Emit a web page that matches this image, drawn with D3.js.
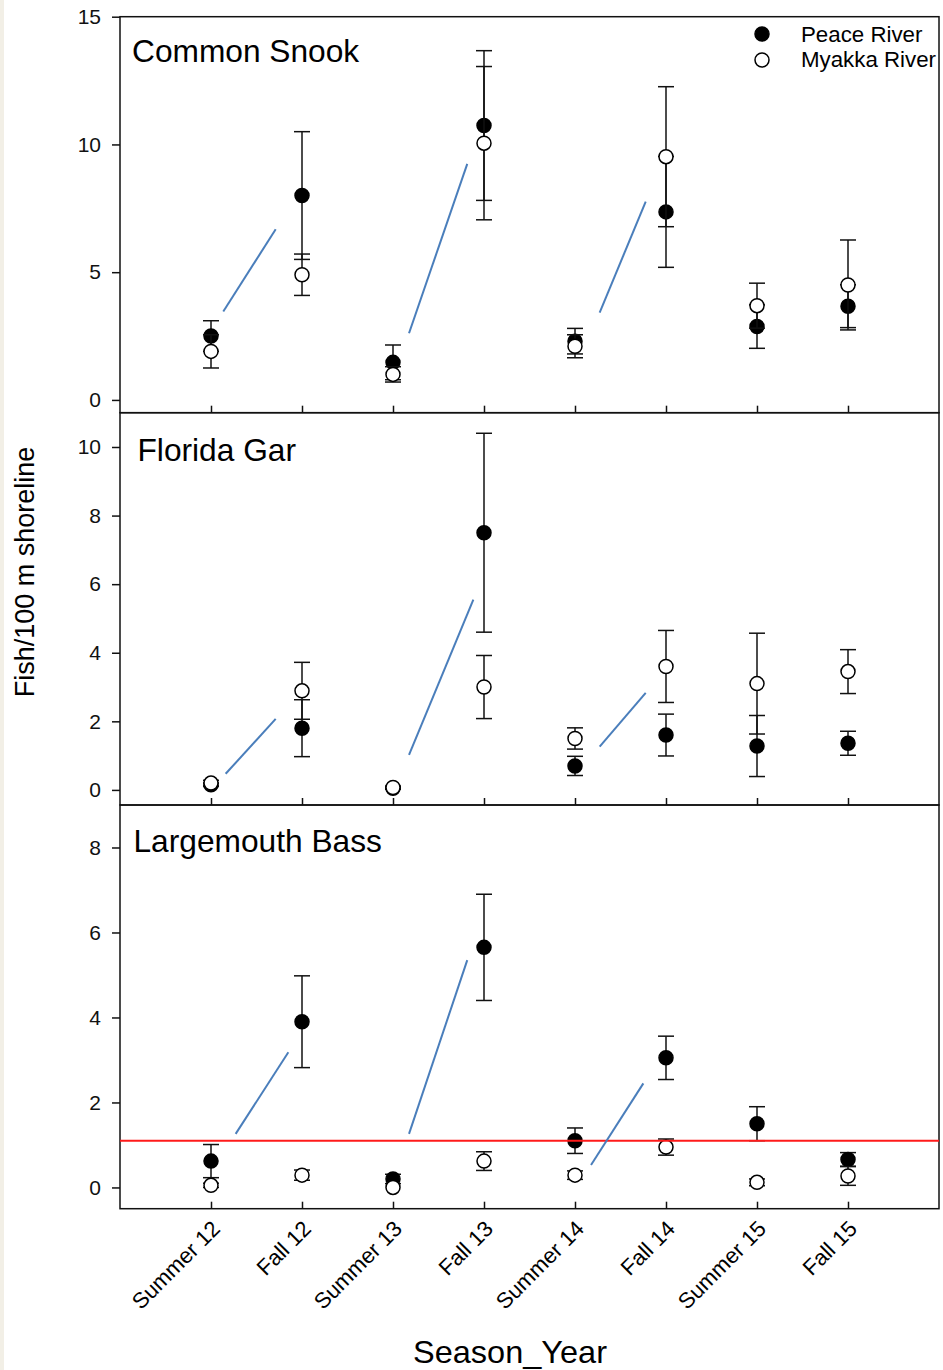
<!DOCTYPE html>
<html>
<head>
<meta charset="utf-8">
<script src="https://cdn.jsdelivr.net/npm/d3@7"></script>
<style>
  html, body { margin: 0; padding: 0; background: #ffffff; }
  svg { display: block; }
</style>
</head>
<body>
<script>
// ---------------- DATA ----------------
const categories = ["Summer 12", "Fall 12", "Summer 13", "Fall 13", "Summer 14", "Fall 14", "Summer 15", "Fall 15"];
const seriesNames = ["Peace River", "Myakka River"];

const snookPeace    = [2.5, 8.0, 1.47, 10.74, 2.3, 7.36, 2.87, 3.67];
const snookPeaceSE  = [0.6, 2.5, 0.68, 2.93, 0.5, 2.17, 0.85, 0.84];
const snookMyakka   = [1.9, 4.9, 1.0, 10.05, 2.1, 9.52, 3.69, 4.5];
const snookMyakkaSE = [0.65, 0.81, 0.3, 3.0, 0.45, 2.74, 0.88, 1.76];

const garPeace    = [0.15, 1.8, 0.05, 7.5, 0.7, 1.6, 1.28, 1.36];
const garPeaceSE  = [0.05, 0.83, 0.03, 2.9, 0.28, 0.61, 0.89, 0.35];
const garMyakka   = [0.2, 2.89, 0.07, 3.0, 1.5, 3.6, 3.1, 3.45];
const garMyakkaSE = [0.08, 0.83, 0.04, 0.92, 0.31, 1.05, 1.47, 0.64];

const bassPeace    = [0.62, 3.9, 0.2, 5.65, 1.1, 3.05, 1.5, 0.66];
const bassPeaceSE  = [0.39, 1.08, 0.11, 1.25, 0.3, 0.51, 0.4, 0.16];
const bassMyakka   = [0.05, 0.29, 0.0, 0.62, 0.29, 0.95, 0.12, 0.27];
const bassMyakkaSE = [0.05, 0.12, 0.0, 0.22, 0.1, 0.19, 0.08, 0.22];

// blue annotation segments: [xIndex1, y1, xIndex2, y2] in data units
const snookSegments = [[0.135, 3.46, 0.711, 6.68], [2.176, 2.61, 2.816, 9.24], [4.271, 3.42, 4.777, 7.76]];
const garSegments   = [[0.161, 0.47, 0.711, 2.07], [2.176, 1.02, 2.883, 5.55], [4.271, 1.26, 4.777, 2.83]];
const bassSegments  = [[0.271, 1.26, 0.850, 3.18], [2.176, 1.26, 2.816, 5.35], [4.176, 0.53, 4.751, 2.45]];

const bassReference = 1.1;

const snookTicks = [0, 5, 10, 15];
const garTicks   = [0, 2, 4, 6, 8, 10];
const bassTicks  = [0, 2, 4, 6, 8];

const panelTitles = ["Common Snook", "Florida Gar", "Largemouth Bass"];
const xTitle = "Season_Year";
const yTitle = "Fish/100 m shoreline";

// ---------------- LAYOUT ----------------
const W = 943, H = 1370;
const left = 120, right = 939;
const panels = [
  { title: panelTitles[0], peace: snookPeace, peaceSE: snookPeaceSE, myakka: snookMyakka, myakkaSE: snookMyakkaSE,
    segs: snookSegments, ticks: snookTicks, domain: [-0.5, 15], range: [412.7, 16.7], titlePos: [132, 61.5], legend: true },
  { title: panelTitles[1], peace: garPeace, peaceSE: garPeaceSE, myakka: garMyakka, myakkaSE: garMyakkaSE,
    segs: garSegments, ticks: garTicks, domain: [-0.44, 11], range: [805, 412.7], titlePos: [137.5, 461] },
  { title: panelTitles[2], peace: bassPeace, peaceSE: bassPeaceSE, myakka: bassMyakka, myakkaSE: bassMyakkaSE,
    segs: bassSegments, ticks: bassTicks, domain: [-0.5, 9], range: [1208.7, 805], titlePos: [133.5, 851.7], ref: bassReference }
];

const FONT = "'Liberation Sans', Arial, Helvetica, sans-serif";
const svg = d3.select("body").append("svg").attr("width", W).attr("height", H);
svg.append("rect").attr("width", W).attr("height", H).attr("fill", "#ffffff");
svg.append("rect").attr("x", 0).attr("y", 0).attr("width", 4).attr("height", H).attr("fill", "#f2efe6");

const x = d3.scaleLinear().domain([-1, categories.length]).range([left, right]);

const R = 7, CAP = 8;

panels.forEach((p, pi) => {
  const y = d3.scaleLinear().domain(p.domain).range(p.range);
  const g = svg.append("g");

  // frame
  g.append("rect").attr("x", left).attr("y", p.range[1]).attr("width", right - left)
    .attr("height", p.range[0] - p.range[1]).attr("fill", "none").attr("stroke", "#111").attr("stroke-width", 1.5);

  // y axis
  const ya = g.append("g").attr("transform", `translate(${left},0)`)
    .call(d3.axisLeft(y).tickValues(p.ticks).tickSize(8).tickPadding(11).tickFormat(d3.format("d")));
  ya.select(".domain").remove();
  ya.selectAll(".tick line").attr("stroke", "#111").attr("stroke-width", 1.5);
  ya.selectAll(".tick text").attr("font-family", FONT).attr("font-size", 21).attr("fill", "#111");

  // x axis ticks (inward)
  const xa = g.append("g").attr("transform", `translate(0,${p.range[0]})`)
    .call(d3.axisTop(x).tickValues(d3.range(categories.length)).tickSize(7).tickFormat(""));
  xa.select(".domain").remove();
  xa.selectAll(".tick line").attr("stroke", "#111").attr("stroke-width", 1.5);

  // series
  const series = [
    { v: p.peace, se: p.peaceSE, fill: "#000000" },
    { v: p.myakka, se: p.myakkaSE, fill: "#ffffff" }
  ];
  series.forEach(s => {
    const sg = g.append("g");
    const pts = s.v.map((v, i) => ({ i, v, se: s.se[i] }));
    const eb = sg.selectAll("g.eb").data(pts.filter(d => d.se > 0)).join("g").attr("class", "eb")
      .attr("stroke", "#111").attr("stroke-width", 1.5);
    eb.append("line").attr("x1", d => x(d.i)).attr("x2", d => x(d.i))
      .attr("y1", d => y(d.v - d.se)).attr("y2", d => y(d.v + d.se));
    eb.append("line").attr("x1", d => x(d.i) - CAP).attr("x2", d => x(d.i) + CAP)
      .attr("y1", d => y(d.v + d.se)).attr("y2", d => y(d.v + d.se));
    eb.append("line").attr("x1", d => x(d.i) - CAP).attr("x2", d => x(d.i) + CAP)
      .attr("y1", d => y(d.v - d.se)).attr("y2", d => y(d.v - d.se));
    sg.selectAll("circle").data(pts).join("circle")
      .attr("cx", d => x(d.i)).attr("cy", d => y(d.v)).attr("r", R)
      .attr("fill", s.fill).attr("stroke", "#000").attr("stroke-width", 1.5);
  });

  // reference line
  if (p.ref !== undefined) {
    g.append("line").attr("x1", left).attr("x2", right).attr("y1", y(p.ref)).attr("y2", y(p.ref))
      .attr("stroke", "#ff1a1a").attr("stroke-width", 2);
  }

  // blue annotation segments
  g.selectAll("line.seg").data(p.segs).join("line").attr("class", "seg")
    .attr("x1", d => x(d[0])).attr("y1", d => y(d[1]))
    .attr("x2", d => x(d[2])).attr("y2", d => y(d[3]))
    .attr("stroke", "#4a7ebb").attr("stroke-width", 2);

  // title
  g.append("text").attr("x", p.titlePos[0]).attr("y", p.titlePos[1]).text(p.title)
    .attr("font-family", FONT).attr("font-size", 31.7).attr("fill", "#000");

  // legend
  if (p.legend) {
    const lg = g.append("g");
    const items = [{ name: seriesNames[0], fill: "#000" }, { name: seriesNames[1], fill: "#fff" }];
    lg.selectAll("circle").data(items).join("circle")
      .attr("cx", 762).attr("cy", (d, i) => 34 + i * 26).attr("r", R)
      .attr("fill", d => d.fill).attr("stroke", "#000").attr("stroke-width", 1.5);
    lg.selectAll("text").data(items).join("text")
      .attr("x", 801).attr("y", (d, i) => 41.7 + i * 25.5).text(d => d.name)
      .attr("font-family", FONT).attr("font-size", 22.3).attr("fill", "#000");
  }

  // bottom category labels
  if (pi === panels.length - 1) {
    g.append("g").selectAll("text").data(categories).join("text")
      .attr("transform", (d, i) => `translate(${x(i) + 5},${p.range[0] + 16}) rotate(-45)`)
      .attr("text-anchor", "end").attr("dy", "0.35em")
      .attr("font-family", FONT).attr("font-size", 22).attr("fill", "#000").text(d => d);
  }
});

// axis titles
svg.append("text").attr("transform", `translate(34,572) rotate(-90)`).attr("text-anchor", "middle")
  .attr("font-family", FONT).attr("font-size", 27).attr("fill", "#000").text(yTitle);
svg.append("text").attr("x", 413).attr("y", 1363).attr("textLength", 194).attr("lengthAdjust", "spacingAndGlyphs")
  .attr("font-family", FONT).attr("font-size", 32).attr("fill", "#000").text(xTitle);
</script>
</body>
</html>
